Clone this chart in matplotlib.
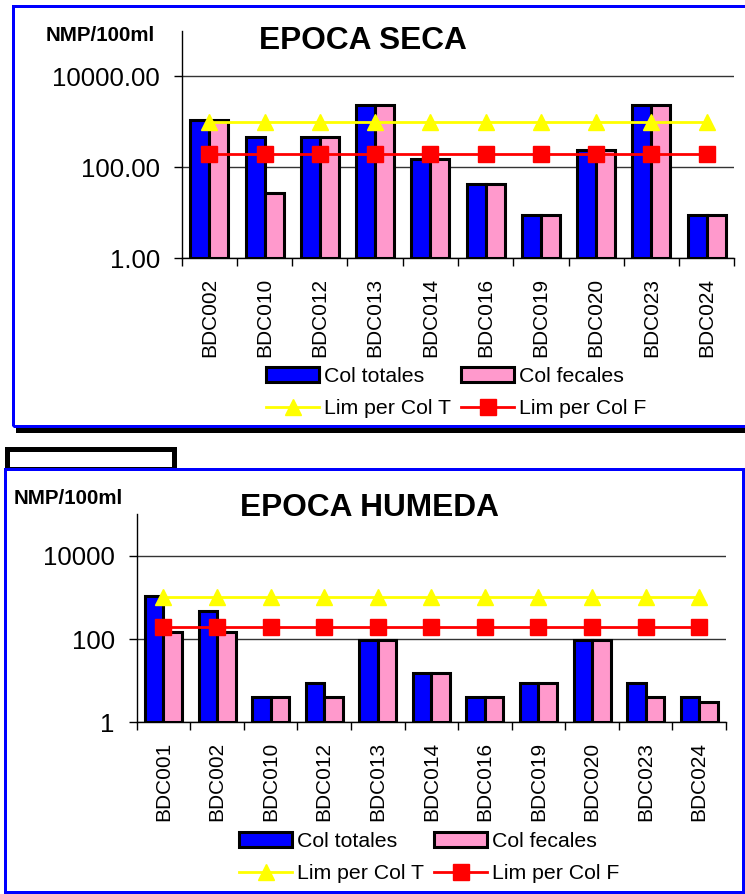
import numpy as np
import matplotlib
matplotlib.use("Agg")
import matplotlib.pyplot as plt
from matplotlib.patches import Rectangle
from matplotlib.lines import Line2D
from matplotlib.ticker import FixedLocator, FuncFormatter, NullLocator

plt.rcParams['font.family'] = ['Liberation Sans', 'DejaVu Sans']

# ---- data: dry season ----
sites_seca = ["BDC002", "BDC010", "BDC012", "BDC013", "BDC014",
              "BDC016", "BDC019", "BDC020", "BDC023", "BDC024"]
tot_seca = [1100, 460, 460, 2400, 150, 43, 9, 240, 2400, 9]
fec_seca = [1100, 28, 460, 2400, 150, 43, 9, 240, 2400, 9]
limT_seca = [1000] * len(sites_seca)
limF_seca = [200] * len(sites_seca)

# ---- data: wet season ----
sites_hum = ["BDC001", "BDC002", "BDC010", "BDC012", "BDC013", "BDC014",
             "BDC016", "BDC019", "BDC020", "BDC023", "BDC024"]
tot_hum = [1100, 460, 4, 9, 93, 15, 4, 9, 93, 9, 4]
fec_hum = [150, 150, 4, 4, 93, 15, 4, 9, 93, 4, 3]
limT_hum = [1000] * len(sites_hum)
limF_hum = [200] * len(sites_hum)

W, H = 745, 894
fig = plt.figure(figsize=(W / 100, H / 100), dpi=100)


def fx(x):
    return x / W


def fy(y):
    return 1 - y / H


BLUE = "#0000FF"
PINK = "#FF99CC"
YELLOW = "#FFFF00"
RED = "#FF0000"
PX = 0.72  # points per pixel


def panel(rect, sites, tot, fec, limT, limF, fmt, title, title_xy,
          unit_xy, legend_xy):
    l, t, r, b = rect
    ax = fig.add_axes([fx(l), fy(b), fx(r - l), (b - t) / H])
    n = len(sites)
    x = np.arange(n)
    w = 0.345
    ax.set_yscale('log')
    bt = ax.bar(x - w / 2, np.array(tot) - 1, w, bottom=1, color=BLUE,
                edgecolor='black', linewidth=2.2, zorder=2)
    bf = ax.bar(x + w / 2, np.array(fec) - 1, w, bottom=1, color=PINK,
                edgecolor='black', linewidth=2.2, zorder=2)
    lt, = ax.plot(x, limT, color=YELLOW, lw=2, marker='^', ms=11,
                  mec=YELLOW, mfc=YELLOW, zorder=4)
    lf, = ax.plot(x, limF, color=RED, lw=2, marker='s', ms=11,
                  mec=RED, mfc=RED, zorder=4)
    ax.set_xlim(-0.5, n - 0.5)
    ax.set_ylim(1, 1e5)
    ax.yaxis.set_major_locator(FixedLocator([1, 100, 10000]))
    ax.yaxis.set_minor_locator(NullLocator())
    ax.yaxis.set_major_formatter(FuncFormatter(fmt))
    ax.set_xticks(x)
    ax.set_xticklabels(sites, rotation=90, fontsize=15)
    ax.set_xticks(np.arange(n + 1) - 0.5, minor=True)
    ax.tick_params(axis='x', which='major', length=0, pad=14)
    ax.tick_params(axis='x', which='minor', length=8 * PX, width=1,
                   direction='out', color='black')
    ax.tick_params(axis='y', which='major', length=8 * PX, width=1,
                   direction='out', labelsize=18.5, pad=10)
    ax.grid(True, axis='y', which='major', color='#333333', lw=1)
    ax.set_axisbelow(True)
    for s in ('top', 'right'):
        ax.spines[s].set_visible(False)
    for s in ('left', 'bottom'):
        ax.spines[s].set_color('black')
        ax.spines[s].set_linewidth(1)
    fig.text(fx(title_xy[0]), fy(title_xy[1]), title, fontsize=22.8,
             fontweight='bold', ha='left', va='baseline')
    fig.text(fx(unit_xy[0]), fy(unit_xy[1]), "NMP/100ml", fontsize=14.8,
             fontweight='bold', ha='left', va='baseline')
    ax.legend([bt, lt, bf, lf],
              ["Col totales", "Lim per Col T", "Col fecales", "Lim per Col F"],
              ncol=2, loc='upper left',
              bbox_to_anchor=(fx(legend_xy[0]), fy(legend_xy[1])),
              bbox_transform=fig.transFigure, frameon=False, fontsize=15.3,
              handlelength=2.5, handleheight=0.7, handletextpad=0.25,
              columnspacing=0.45, labelspacing=0.62, borderpad=0,
              borderaxespad=0, numpoints=1)
    return ax


# frames around the two panels
fig.add_artist(Rectangle((fx(13), fy(426)), fx(760 - 13), (426 - 6) / H,
                         transform=fig.transFigure, fill=False,
                         edgecolor=BLUE, lw=3 * PX, zorder=5))
fig.add_artist(Line2D([fx(18), fx(745)], [fy(430.5), fy(430.5)],
                      transform=fig.transFigure, color='black',
                      lw=5 * PX, zorder=5))
fig.add_artist(Rectangle((fx(7), fy(469)), fx(174 - 7), (469 - 449) / H,
                         transform=fig.transFigure, fill=False,
                         edgecolor='black', lw=5 * PX, zorder=4))
fig.add_artist(Rectangle((fx(4.7), fy(891.5)), fx(743 - 4.7),
                         (891.5 - 468.5) / H,
                         transform=fig.transFigure, facecolor='white',
                         edgecolor=BLUE, lw=3 * PX, zorder=4.5))

ax1 = panel((181.7, 31, 734.3, 258.3), sites_seca, tot_seca, fec_seca,
            limT_seca, limF_seca, lambda v, p: f"{v:.2f}",
            "EPOCA SECA", (259, 49.3), (46, 41.3), (266, 367))
ax2 = panel((136.7, 514.2, 726, 722.3), sites_hum, tot_hum, fec_hum,
            limT_hum, limF_hum, lambda v, p: f"{v:.0f}",
            "EPOCA HUMEDA", (240, 515.7), (13.5, 504), (239, 832))
ax1.set_zorder(6)
ax2.set_zorder(6)
ax1.patch.set_alpha(0)
ax2.patch.set_alpha(0)
for t in fig.texts:
    t.set_zorder(7)

fig.savefig("out.png", dpi=100)
